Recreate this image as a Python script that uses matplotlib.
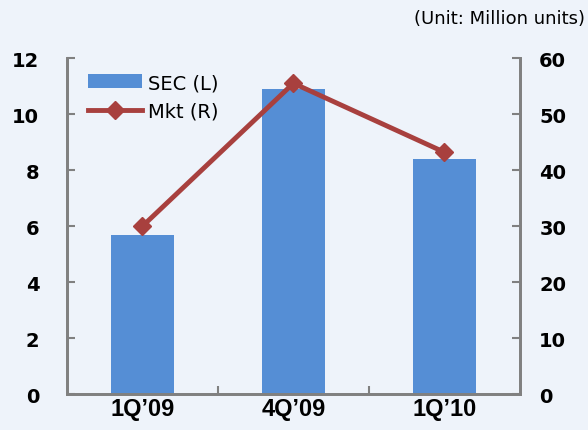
import numpy as np
import matplotlib.pyplot as plt

# Shipment data (million units)
Quarters = ["1Q\u201909", "4Q\u201909", "1Q\u201910"]
SecUnits = [5.7, 10.9, 8.4]
MktUnits = [30.0, 55.5, 43.2]

BgColor = "#EEF3FA"
BarColor = "#558ED5"
LineColor = "#A8403E"
SpineColor = "#808080"

fig = plt.figure(figsize=(5.88, 4.31), dpi=100, facecolor=BgColor)
ax = fig.add_axes([0.114, 0.083, 0.770, 0.780])
ax.set_facecolor("none")
ax2 = ax.twinx()

x = np.arange(len(Quarters))
bars = ax.bar(x, SecUnits, width=0.42, color=BarColor, label="SEC (L)", zorder=2)
line, = ax2.plot(x, MktUnits, color=LineColor, lw=3.5, marker="D", ms=9,
                 label="Mkt (R)", zorder=3)

ax.set_xlim(-0.5, 2.5)
ax.set_ylim(0, 12)
ax2.set_ylim(0, 60)
ax.set_yticks(np.arange(0, 13, 2))
ax2.set_yticks(np.arange(0, 61, 10))

ax.set_xticks(x)
ax.set_xticklabels(Quarters, fontsize=17, fontweight="bold", family="Liberation Sans")
ax.set_xticks([0.5, 1.5], minor=True)
ax.tick_params(axis="x", which="major", length=0, pad=2)
ax.tick_params(axis="x", which="minor", direction="in", length=6, width=1.5, color=SpineColor)
ax.tick_params(axis="y", direction="in", length=6, width=1.5, color=SpineColor,
               labelsize=14, pad=20)
ax2.tick_params(axis="y", direction="in", length=6, width=1.5, color=SpineColor,
                labelsize=14, pad=14)
for lab in ax.get_yticklabels() + ax2.get_yticklabels():
    lab.set_fontweight("bold")

for a in (ax, ax2):
    a.spines["top"].set_visible(False)
    for s in ("left", "right", "bottom"):
        a.spines[s].set_color(SpineColor)
        a.spines[s].set_linewidth(2)

ax.legend([bars, line], ["SEC (L)", "Mkt (R)"], loc="upper left",
          bbox_to_anchor=(0.02, 0.99), frameon=False, fontsize=14,
          handlelength=2.8, handletextpad=0.3, labelspacing=0.5, borderaxespad=0.2)

fig.text(0.995, 0.955, "(Unit: Million units)", ha="right", va="center", fontsize=13)

fig.savefig("out.png", dpi=100, facecolor=BgColor)
